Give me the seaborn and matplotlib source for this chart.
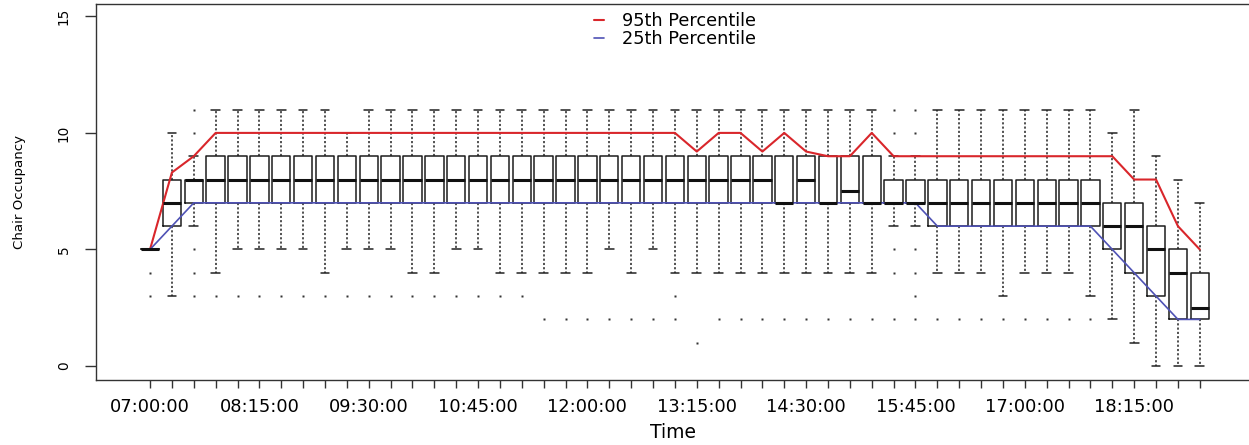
import matplotlib
matplotlib.use("Agg")
import matplotlib.pyplot as plt
import seaborn as sns
import pandas as pd

# 15-minute time slots from 07:00 to 19:00
slots = pd.date_range("07:00", "19:00", freq="15min").strftime("%H:%M:%S").tolist()
tick_labels = ["07:00:00", "08:15:00", "09:30:00", "10:45:00", "12:00:00",
               "13:15:00", "14:30:00", "15:45:00", "17:00:00", "18:15:00"]

# Box summaries of chair occupancy per slot
whislo = [5, 3, 6, 4, 5, 5, 5, 5, 4, 5, 5, 5, 4, 4, 5, 5, 4, 4, 4, 4, 4, 5, 4, 5, 4,
          4, 4, 4, 4, 4, 4, 4, 4, 4, 6, 6, 4, 4, 4, 3, 4, 4, 4, 3, 2, 1, 0, 0, 0]
q1 = [5, 6, 7, 7, 7, 7, 7, 7, 7, 7, 7, 7, 7, 7, 7, 7, 7, 7, 7, 7, 7, 7, 7, 7, 7,
      7, 7, 7, 7, 7, 7, 7, 7, 7, 7, 7, 6, 6, 6, 6, 6, 6, 6, 6, 5, 4, 3, 2, 2]
median = [5, 7, 8, 8, 8, 8, 8, 8, 8, 8, 8, 8, 8, 8, 8, 8, 8, 8, 8, 8, 8, 8, 8, 8, 8,
          8, 8, 8, 8, 7, 8, 7, 7.5, 7, 7, 7, 7, 7, 7, 7, 7, 7, 7, 7, 6, 6, 5, 4, 2.5]
q3 = [5, 8, 8, 9, 9, 9, 9, 9, 9, 9, 9, 9, 9, 9, 9, 9, 9, 9, 9, 9, 9, 9, 9, 9, 9,
      9, 9, 9, 9, 9, 9, 9, 9, 9, 8, 8, 8, 8, 8, 8, 8, 8, 8, 8, 7, 7, 6, 5, 4]
whishi = [5, 10, 9, 11, 11, 11, 11, 11, 11, 10, 11, 11, 11, 11, 11, 11, 11, 11, 11, 11,
          11, 11, 11, 11, 11, 11, 11, 11, 11, 11, 11, 11, 11, 11, 9, 9, 11, 11, 11, 11,
          11, 11, 11, 11, 10, 11, 9, 8, 7]
outliers = [[4, 3], [], [11, 10, 5, 4, 3], [3], [3], [3], [3], [3], [3], [3], [3], [3],
            [3], [3], [3], [3], [3], [3], [2], [2], [2], [2], [2], [2], [3, 2], [1],
            [2], [2], [2], [2], [2], [2], [2], [2], [11, 10, 5, 4, 2],
            [11, 10, 5, 4, 3, 2], [2], [2], [2], [2], [2], [2], [2], [2], [], [], [], [], []]

# Percentile curves
p95 = [5, 8.3, 9] + [10] * 22 + [9.2, 10, 10, 9.2, 10, 9.2, 9, 9, 10] + [9] * 11 + [8, 8, 6, 5]
p25 = [5, 6] + [7] * 34 + [6] * 8 + [5, 4, 3, 2, 2]

sns.set_style("ticks")
plt.rcParams["font.family"] = ["DejaVu Sans"]
plt.rcParams.update({"text.color": "black", "axes.labelcolor": "black",
                     "xtick.color": "black", "ytick.color": "black"})

fig = plt.figure(figsize=(12.49, 4.45), dpi=100)
ax = fig.add_axes([96 / 1249, 1 - 380 / 445, 1 - 96 / 1249, (380 - 4) / 445])

positions = list(range(len(slots)))
stats = [dict(whislo=a, q1=b, med=c, q3=d, whishi=e, fliers=f)
         for a, b, c, d, e, f in zip(whislo, q1, median, q3, whishi, outliers)]

ax.bxp(stats, positions=positions, widths=0.84, capwidths=0.4, manage_ticks=False,
       boxprops=dict(color="#1c1c1c", lw=1.1),
       medianprops=dict(color="#111111", lw=2.2),
       whiskerprops=dict(color="#222222", lw=1.1, linestyle=(0, (1.4, 1.4))),
       capprops=dict(color="#222222", lw=1.1),
       flierprops=dict(marker="s", markersize=1.6, markerfacecolor="#333333",
                       markeredgecolor="none"))

lines = pd.DataFrame({"slot": positions, "p95": p95, "p25": p25})
sns.lineplot(data=lines, x="slot", y="p95", color="#d9262b", lw=1.5,
             label="95th Percentile", ax=ax)
sns.lineplot(data=lines, x="slot", y="p25", color="#4f52b5", lw=1.2,
             label="25th Percentile", ax=ax)

ax.set_xlim(-2.47, 50.25)
ax.set_ylim(-0.6, 15.53)

ax.set_xticks(positions)
ax.set_xticklabels([s if s in tick_labels else "" for s in slots], fontsize=12.8)
ax.set_yticks([0, 5, 10, 15])
ax.set_yticklabels(["0", "5", "10", "15"], rotation=90, va="center", fontsize=9.8)
ax.tick_params(axis="x", length=6, width=1, color="#333333", pad=7)
ax.tick_params(axis="y", length=8, width=1, color="#333333", pad=10)

ax.set_xlabel("Time", fontsize=13.5, labelpad=5)
ax.set_ylabel("Chair Occupancy", fontsize=9.6, labelpad=22)

for side in ["left", "bottom", "top"]:
    ax.spines[side].set_color("#333333")
    ax.spines[side].set_linewidth(1.0)
ax.spines["right"].set_visible(False)

ax.legend(loc="upper center", bbox_to_anchor=(0.502, 1.022), frameon=False,
          fontsize=12.8, handlelength=0.55, handletextpad=1.0, labelspacing=0.0,
          borderpad=0.4)

fig.savefig("out.png", dpi=100)
